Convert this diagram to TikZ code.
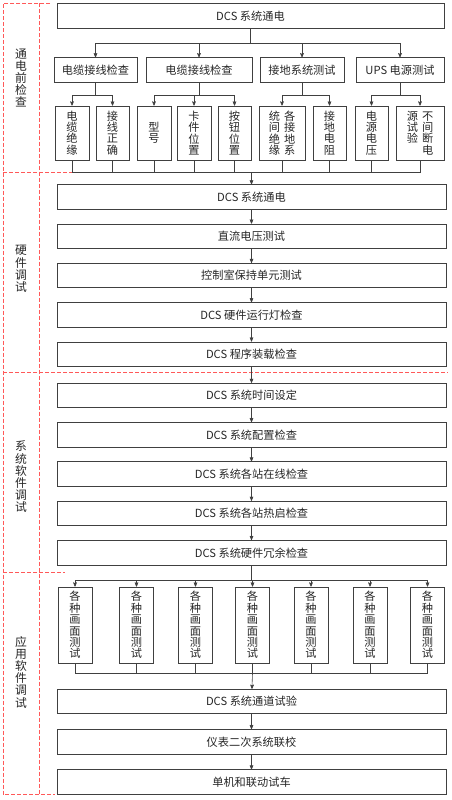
\documentclass[tikz,border=0pt]{standalone}
\usepackage{fontspec}
\newfontfamily\cjk{Noto Sans CJK SC}
\usetikzlibrary{arrows,positioning,calc}

\begin{document}
\begin{tikzpicture}[x=1pt, y=-1pt, >=stealth', semithick, node distance=14pt]
\tikzstyle{every node}=[font=\cjk\fontsize{11.2}{11.4}\selectfont, text=black!85]
\tikzstyle{box}=[draw=black!75, line width=0.8pt, inner sep=0pt, minimum height=24.5pt, align=center]
\tikzstyle{wide}=[box, minimum width=389pt]
\tikzstyle{tall}=[box, minimum height=54pt]
\tikzstyle{pic}=[box, minimum width=34pt, minimum height=76pt]
\tikzstyle{zone}=[draw=red!65, dash pattern=on 4pt off 2pt, line width=0.8pt]
\tikzstyle{zonelabel}=[font=\cjk\fontsize{11.8}{12.2}\selectfont, align=center]
\tikzstyle{flow}=[->, draw=black!75]
\tikzstyle{bus}=[draw=black!75]
\useasboundingbox (0,0) rectangle (452,800);

% dashed zones on the left
\draw[zone] (50,3.5) -- (3,3.5) -- (3,794) -- (55,794);
\draw[zone] (39.5,3.5) -- (39.5,794);
\draw[zone] (3,172) -- (72,172);
\draw[zone] (3,372.5) -- (448,372.5);
\draw[zone] (3,572) -- (65,572);
\node[zonelabel] (l1) at (21,78)  {通\\电\\前\\检\\查};
\node[zonelabel] (l2) at (21,269) {硬\\件\\调\\试};
\node[zonelabel] (l3) at (21,477) {系\\统\\软\\件\\调\\试};
\node[zonelabel] (l4) at (21,672) {应\\用\\软\\件\\调\\试};

% check before power on
\node[box, minimum width=387pt] (top) at (250.5,16) {DCS 系统通电};
\node[box, minimum width=83pt]  (a) at (95.5,70) {电缆接线检查};
\node[box, minimum width=106pt] (b) at (199,70)  {电缆接线检查};
\node[box, minimum width=84pt]  (c) at (302,70)  {接地系统测试};
\node[box, minimum width=88pt]  (d) at (400,70)  {UPS 电源测试};

\node[tall, minimum width=34pt] (a1) at (72,133)    {电\\缆\\绝\\缘};
\node[tall, minimum width=33pt] (a2) at (112.5,133) {接\\线\\正\\确};
\node[tall, minimum width=34pt] (b1) at (154,133)   {型\\号};
\node[tall, minimum width=34pt] (b2) at (194,133)   {卡\\件\\位\\置};
\node[tall, minimum width=33pt] (b3) at (234.5,133) {按\\钮\\位\\置};
\node[tall, minimum width=46pt] (c1) at (282,133)
  {统\hspace{4pt}各\\间\hspace{4pt}接\\绝\hspace{4pt}地\\缘\hspace{4pt}系};
\node[tall, minimum width=33pt] (c2) at (329.5,133) {接\\地\\电\\阻};
\node[tall, minimum width=33pt] (d1) at (371.5,133) {电\\源\\电\\压};
\node[tall, minimum width=48pt] (d2) at (420,133)
  {源\hspace{4pt}不\\试\hspace{4pt}间\\验\hspace{4pt}断\\\phantom{源}\hspace{4pt}电};

% hardware
\node[wide] (h1) at (251.5,197) {DCS 系统通电};
\node[wide] (h2) [below=of h1] {直流电压测试};
\node[wide] (h3) [below=of h2] {控制室保持单元测试};
\node[wide] (h4) [below=of h3] {DCS 硬件运行灯检查};
\node[wide] (h5) [below=of h4] {DCS 程序装载检查};

% system software
\node[wide] (s1) [below=16pt of h5] {DCS 系统时间设定};
\node[wide] (s2) [below=of s1] {DCS 系统配置检查};
\node[wide] (s3) [below=of s2] {DCS 系统各站在线检查};
\node[wide] (s4) [below=of s3] {DCS 系统各站热启检查};
\node[wide] (s5) [below=of s4] {DCS 系统硬件冗余检查};

% application software
\foreach \x [count=\i] in {75,136.5,195.5,252.5,311,370,427.5}
  \node[pic] (p\i) at (\x,625) {各\\种\\画\\面\\测\\试};
\node[wide] (u1) at (251.5,701.5) {DCS 系统通道试验};
\node[wide] (u2) [below=15pt of u1] {仪表二次系统联校};
\node[wide] (u3) [below=15pt of u2] {单机和联动试车};

% connectors
\coordinate (j0) at ([yshift=-15pt]top.south);
\draw[bus] (top.south) -- (j0);
\foreach \n in {a,b,c,d}
  \draw[flow] (j0) -| (\n.north);

\coordinate (ja) at ([yshift=-13pt]a.south);
\coordinate (jb) at ([yshift=-13pt]b.south);
\coordinate (jc) at ([yshift=-13pt]c.south);
\coordinate (jd) at ([yshift=-13pt]d.south);
\draw[bus] (a.south) -- (ja);
\draw[bus] (b.south) -- (jb);
\draw[bus] (c.south) -- (jc);
\draw[bus] (d.south) -- (jd);
\draw[flow] (ja) -| (a1.north);
\draw[flow] (ja) -| (a2.north);
\draw[flow] (jb) -| (b1.north);
\draw[flow] (jb) -| (b2.north);
\draw[flow] (jb) -| (b3.north);
\draw[flow] (jc) -| (c1.north);
\draw[flow] (jc) -| (c2.north);
\draw[flow] (jd) -| (d1.north);
\draw[flow] (jd) -| (d2.north);

\coordinate (j1) at (251.5,172);
\foreach \n in {a1,a2,b1,b2,b3,c1,c2,d1,d2}
  \draw[bus] (\n.south) |- (j1);
\draw[flow] (j1) -- (h1);

\foreach \u/\v in {h1/h2,h2/h3,h3/h4,h4/h5,h5/s1,s1/s2,s2/s3,s3/s4,s4/s5,u1/u2,u2/u3}
  \draw[flow] (\u) -- (\v);

\coordinate (j2) at ([yshift=-15pt]s5.south);
\draw[bus] (s5) -- (j2);
\foreach \i in {1,...,7}
  \draw[flow] (j2) -| (p\i.north);

\coordinate (j3) at (252.5,673);
\foreach \i in {1,...,7}
  \draw[bus] (p\i.south) |- (j3);
\draw[flow] (j3) -- (u1);
\end{tikzpicture}
\end{document}
